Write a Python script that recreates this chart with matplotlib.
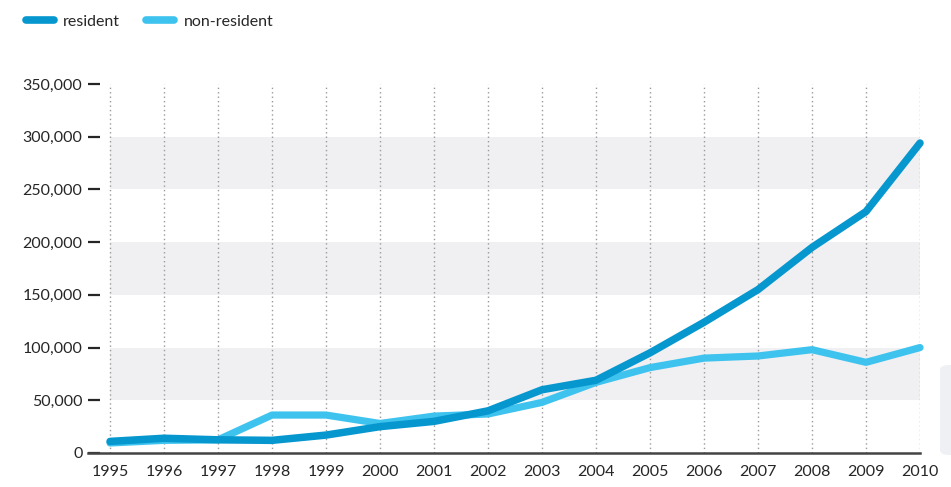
import matplotlib
matplotlib.use("Agg")
import matplotlib.pyplot as plt
from matplotlib.patches import FancyBboxPatch
from matplotlib.lines import Line2D

years = list(range(1995, 2011))
resident = [11000, 14000, 12500, 12000, 17000, 25000, 30000, 40000,
            60000, 69000, 95000, 124000, 155000, 195000, 229000, 294000]
non_resident = [9500, 12000, 12500, 36000, 36000, 28000, 35000, 37000,
                48000, 67000, 81000, 90000, 92000, 98000, 86000, 100000]
yticks = [0, 50000, 100000, 150000, 200000, 250000, 300000, 350000]
ytick_labels = ["0", "50,000", "100,000", "150,000", "200,000", "250,000", "300,000", "350,000"]
series_names = ["resident", "non-resident"]

c_res = "#0797cf"
c_non = "#3ec3ef"
txt = "#262626"

plt.rcParams['font.family'] = ['Lato', 'DejaVu Sans']

W, H = 951, 487
fig = plt.figure(figsize=(W / 100, H / 100), dpi=100)
ax = fig.add_axes([88 / W, (H - 453) / H, (920 - 88) / W, (453 - 84) / H])

x0 = years[0] - 22 / 53.9
ax.set_xlim(x0, years[-1])
ax.set_ylim(0, 350000)

# bands
for lo in (50000, 150000, 250000):
    ax.fill_between([years[0], years[-1]], lo, lo + 50000, color="#f0f0f3", lw=0, zorder=0)

# dotted verticals
ax.vlines(years, 0, 350000, colors="#9a9a9a", linestyles=(0, (1, 2.2)), lw=1.0, zorder=1)

ax.plot(years, resident, color=c_res, lw=5.4, solid_capstyle="round", solid_joinstyle="round",
        zorder=3, clip_on=False)
ax.plot(years, non_resident, color=c_non, lw=5.2, solid_capstyle="round", solid_joinstyle="round",
        zorder=2, clip_on=False)

for s in ("left", "right", "top"):
    ax.spines[s].set_visible(False)
ax.spines["bottom"].set_color("#444444")
ax.spines["bottom"].set_linewidth(1.8)

ax.set_yticks(yticks)
ax.set_yticklabels(ytick_labels)
ax.tick_params(axis="y", direction="in", length=8.5, width=1.6, color=txt, pad=4,
               labelsize=11.5, labelcolor=txt)
ax.set_xticks(years)
ax.set_xticklabels([str(y) for y in years])
ax.tick_params(axis="x", length=0, pad=9, labelsize=11.5, labelcolor=txt)

# legend
handles = [Line2D([0], [0], color=c_res, lw=5.5, solid_capstyle="round"),
           Line2D([0], [0], color=c_non, lw=5.5, solid_capstyle="round")]
leg = fig.legend(handles, series_names, loc="upper left", bbox_to_anchor=(0.012, 1.0),
                 ncol=2, frameon=False, fontsize=11.5, handlelength=1.75, handletextpad=0.6,
                 columnspacing=1.6, labelcolor=txt)

# right edge grey box artifact
fig.patches.append(FancyBboxPatch((940 / W, (H - 455) / H), 0.03, 90 / H,
                                  boxstyle="round,pad=0,rounding_size=0.01",
                                  transform=fig.transFigure, color="#eef0f4", lw=0))

fig.savefig("out.png", dpi=100)
